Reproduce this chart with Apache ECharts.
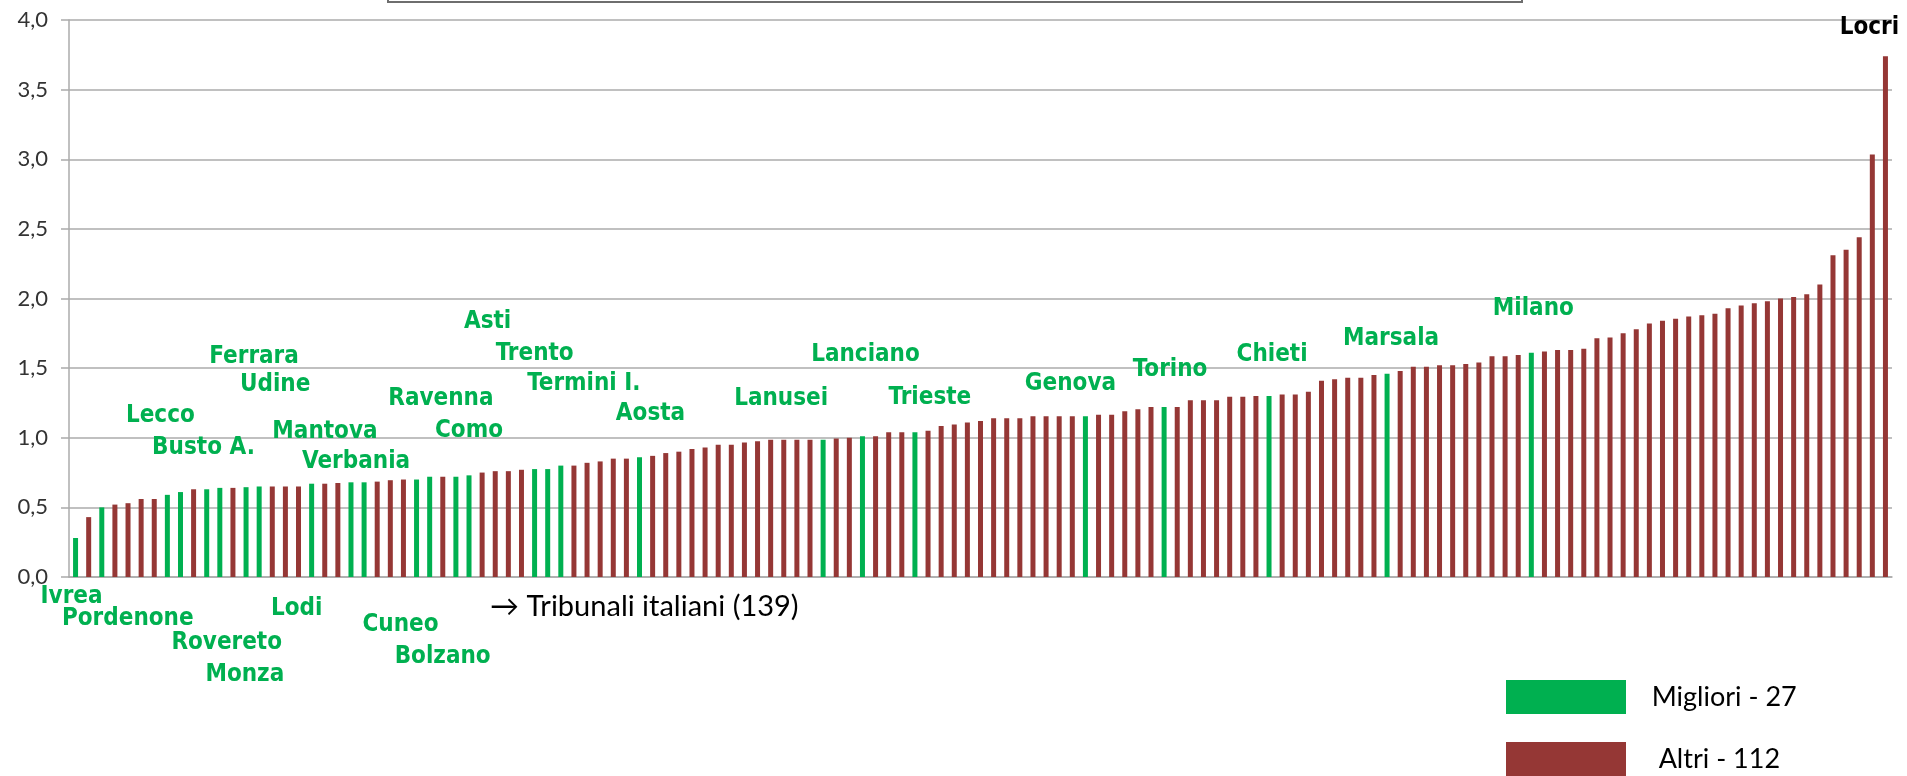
<!DOCTYPE html>
<html>
<head>
<meta charset="utf-8">
<script src="https://cdn.jsdelivr.net/npm/echarts@6/dist/echarts.min.js"></script>
<style>
  html, body { margin: 0; padding: 0; background: #fff; }
  #chart { width: 1907px; height: 776px; }
</style>
</head>
<body>
<div id="chart"></div>
<script>
// valori per tribunale, ordinati dal migliore al peggiore (139 tribunali)
const values = [
  0.28, 0.43, 0.50, 0.52, 0.53, 0.56, 0.56, 0.59, 0.61, 0.63,
  0.63, 0.64, 0.64, 0.645, 0.65, 0.65, 0.65, 0.65, 0.67, 0.67,
  0.675, 0.68, 0.68, 0.685, 0.695, 0.70, 0.70, 0.72, 0.72, 0.72,
  0.73, 0.75, 0.76, 0.76, 0.77, 0.775, 0.775, 0.80, 0.80, 0.82,
  0.83, 0.85, 0.85, 0.86, 0.87, 0.89, 0.90, 0.92, 0.93, 0.95,
  0.95, 0.965, 0.975, 0.985, 0.985, 0.985, 0.985, 0.985, 0.995, 1.00,
  1.01, 1.01, 1.04, 1.04, 1.04, 1.05, 1.085, 1.095, 1.11, 1.12,
  1.14, 1.14, 1.14, 1.155, 1.155, 1.155, 1.155, 1.155, 1.165, 1.165,
  1.19, 1.205, 1.22, 1.22, 1.22, 1.27, 1.27, 1.27, 1.295, 1.295,
  1.30, 1.30, 1.31, 1.31, 1.33, 1.41, 1.42, 1.43, 1.43, 1.45,
  1.46, 1.48, 1.51, 1.51, 1.52, 1.52, 1.53, 1.54, 1.585, 1.585,
  1.595, 1.61, 1.62, 1.63, 1.63, 1.64, 1.715, 1.72, 1.75, 1.78,
  1.82, 1.84, 1.855, 1.87, 1.88, 1.89, 1.93, 1.95, 1.965, 1.98,
  2.00, 2.01, 2.03, 2.10, 2.31, 2.35, 2.44, 3.035, 3.74
];

// i 27 migliori: posizione nella graduatoria e nome
const bestIdx = [0, 2, 7, 8, 10, 11, 13, 14, 18, 21, 22, 26, 27, 29, 30, 35, 36, 37, 43, 57, 60, 64, 77, 83, 91, 100, 111];
const bestNames = ['Ivrea', 'Pordenone', 'Lecco', 'Busto A.', 'Rovereto', 'Monza', 'Ferrara', 'Udine', 'Lodi', 'Mantova', 'Verbania',
  'Cuneo', 'Bolzano', 'Ravenna', 'Como', 'Asti', 'Trento', 'Termini I.', 'Aosta',
  'Lanusei', 'Lanciano', 'Trieste', 'Genova', 'Torino', 'Chieti', 'Marsala', 'Milano'];
const worstIdx = 138;
const worstName = 'Locri';

const yTicks = [0, 0.5, 1, 1.5, 2, 2.5, 3, 3.5, 4];
const seriesNames = ['Migliori - 27', ' Altri - 112'];

// posizione delle etichette rispetto alla barra: [posizione, dx, dy]
const labelLayout = [
  ['bottom', -4, 20], ['bottom', 26, 42], ['top', -7, -79], ['top', 23, -44], ['bottom', 20, 66],
  ['bottom', 25, 98], ['top', 8, -130], ['top', 16, -102], ['bottom', -15, 32], ['top', -26, -51],
  ['top', -8, -21], ['bottom', -16, 48], ['bottom', 13, 80], ['top', -15, -78], ['top', 0, -45],
  ['top', -47, -147], ['top', -13, -115], ['top', 23, -82], ['top', 11, -43], ['top', -42, -41],
  ['top', 3, -82], ['top', 15, -34], ['top', -15, -32], ['top', 6, -37], ['top', 3, -41],
  ['top', 4, -35], ['top', 2, -44]
];

const GREEN = '#00B050';
const RED = '#953735';
const GRID = '#ABABAB';
const LABEL_FONT = 'DejaVu Sans Condensed, DejaVu Sans, sans-serif';
const TEXT_FONT = 'Lato, Open Sans, sans-serif';

const ranks = values.map((v, i) => String(i + 1));

function nameLabel(text, color, pos, dx, dy) {
  return {
    show: true,
    position: pos,
    distance: 0,
    offset: [dx, dy],
    verticalAlign: 'middle',
    align: 'center',
    formatter: text,
    color: color,
    fontFamily: LABEL_FONT,
    fontWeight: 'bold',
    fontSize: 24
  };
}

const greenData = values.map((v, i) => {
  const k = bestIdx.indexOf(i);
  if (k < 0) return '-';
  const [pos, dx, dy] = labelLayout[k];
  return { value: v, label: nameLabel(bestNames[k], GREEN, pos, dx, dy) };
});

const redData = values.map((v, i) => {
  if (bestIdx.indexOf(i) >= 0) return '-';
  if (i === worstIdx) return { value: v, label: nameLabel(worstName, '#000', 'top', -16, -28) };
  return v;
});

const legendBase = {
  orient: 'vertical',
  left: 1506,
  padding: 0,
  itemWidth: 120,
  itemHeight: 34,
  icon: 'rect',
  formatter: name => '   ' + name,
  textStyle: { color: '#000', fontSize: 27, fontFamily: TEXT_FONT }
};

const chart = echarts.init(document.getElementById('chart'));
chart.setOption({
  animation: false,
  backgroundColor: '#fff',
  grid: { left: 69, right: 15, top: 20, bottom: 199 },
  legend: [
    Object.assign({}, legendBase, { top: 680, data: [seriesNames[0]] }),
    Object.assign({}, legendBase, { top: 742, data: [seriesNames[1]] })
  ],
  xAxis: {
    type: 'category',
    data: ranks,
    axisLine: { show: true, lineStyle: { color: GRID, width: 1.5 } },
    axisTick: { show: false },
    axisLabel: { show: false }
  },
  yAxis: {
    type: 'value',
    min: yTicks[0],
    max: yTicks[yTicks.length - 1],
    interval: 0.5,
    axisLine: { show: true, lineStyle: { color: GRID, width: 1.5 } },
    axisTick: { show: true, length: 8, lineStyle: { color: GRID, width: 1.5 } },
    splitLine: { lineStyle: { color: GRID, width: 1.5 } },
    axisLabel: {
      margin: 21,
      color: '#333',
      fontSize: 22,
      fontFamily: TEXT_FONT,
      formatter: v => v.toFixed(1).replace('.', ',')
    }
  },
  series: [
    {
      name: seriesNames[0],
      type: 'bar',
      barWidth: 5,
      barGap: '-100%',
      itemStyle: { color: GREEN },
      data: greenData
    },
    {
      name: seriesNames[1],
      type: 'bar',
      barWidth: 5,
      barGap: '-100%',
      itemStyle: { color: RED },
      data: redData
    }
  ],
  graphic: [
    {
      type: 'rect',
      shape: { x: 388, y: -40, width: 1134, height: 42 },
      style: { fill: '#fff', stroke: '#6E6E6E', lineWidth: 2 }
    },
    {
      type: 'text',
      x: 490,
      y: 607,
      style: {
        text: '\u2192 Tribunali italiani (139)',
        fill: '#000',
        fontSize: 29,
        fontFamily: TEXT_FONT,
        verticalAlign: 'middle'
      }
    }
  ]
});
</script>
</body>
</html>
